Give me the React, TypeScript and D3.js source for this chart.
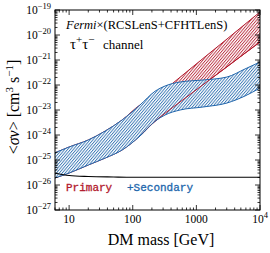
import React from 'react';
import * as d3 from 'd3';

const WIDTH = 270;
const HEIGHT = 253;
const MARGIN = { top: 10, right: 10, bottom: 43, left: 55 };

// DM mass grid [GeV]
const massGeV = [6, 10, 20, 37, 68, 130, 224, 322, 554, 1270, 3030, 5800, 10000];
// log10 <sigma v> [cm^3 s^-1]
const secUpperLog = [-24.71, -24.48, -24.2, -23.84, -23.4, -22.8, -22.25, -22.04, -21.88, -21.8, -21.68, -21.36, -21.08];
const secLowerLog = [-25.72, -25.52, -25.2, -24.92, -24.6, -24.04, -23.45, -23.2, -23.0, -22.88, -22.72, -22.44, -22.12];
const primUpperLog = [-24.71, -24.48, -24.2, -23.84, -23.4, -22.8, -22.5, -22.18, -21.69, -20.94, -20.16, -19.57, -19.08];
const primLowerLog = [-25.72, -25.52, -25.2, -24.92, -24.6, -24.04, -23.45, -23.13, -22.68, -21.99, -21.27, -20.73, -20.28];

// thermal relic cross section
const thermalMass = [6, 10, 20, 50, 100, 1000, 10000];
const thermalLog = [-25.53, -25.62, -25.66, -25.68, -25.69, -25.69, -25.69];

const xTickLabels = ['10', '100', '1000', '10^4'];
const yTickExps = [-19, -20, -21, -22, -23, -24, -25, -26, -27];

const RED = '#b2182b';
const BLUE = '#2166ac';
const SERIF = '"Liberation Serif", "Times New Roman", serif';
const MONO = '"Liberation Mono", monospace';

const App = () => {
    const left = MARGIN.left;
    const right = WIDTH - MARGIN.right;
    const top = MARGIN.top;
    const bottom = HEIGHT - MARGIN.bottom;

    const x = d3.scaleLog().domain([6, 10000]).range([left, right]);
    const y = d3.scaleLog().domain([1e-27, 1e-19]).range([bottom, top]);

    const band = (lo, hi) => d3.area()
        .x((d, i) => x(massGeV[i]))
        .y0((d, i) => y(Math.pow(10, lo[i])))
        .y1((d, i) => y(Math.pow(10, hi[i])))
        .curve(d3.curveMonotoneX)(massGeV);

    const edge = (vals, mass = massGeV) => d3.line()
        .x((d, i) => x(mass[i]))
        .y((d, i) => y(Math.pow(10, vals[i])))
        .curve(d3.curveMonotoneX)(mass);

    const isMajor = v => Math.abs(Math.log10(v) - Math.round(Math.log10(v))) < 1e-6;
    const xTicks = x.ticks(50);
    const yTicks = y.ticks(50);

    // red lower edge stays visible where it leaves the blue band
    const highMass = massGeV.filter(m => m >= 130);
    const primLowerHigh = primLowerLog.slice(massGeV.length - highMass.length);

    return (
        <svg width={WIDTH} height={HEIGHT} style={{ position: 'absolute', left: 0, top: 0 }}>
            <defs>
                <pattern id="hatchRed" patternUnits="userSpaceOnUse" width="2.2" height="10" patternTransform="rotate(40)">
                    <line x1="0.5" y1="0" x2="0.5" y2="10" stroke={RED} strokeWidth="0.8" />
                </pattern>
                <pattern id="hatchBlue" patternUnits="userSpaceOnUse" width="2.2" height="10" patternTransform="rotate(40)">
                    <line x1="0.5" y1="0" x2="0.5" y2="10" stroke={BLUE} strokeWidth="0.8" />
                </pattern>
                <clipPath id="plotClip">
                    <rect x={left} y={top} width={right - left} height={bottom - top} />
                </clipPath>
            </defs>
            <rect x={0} y={0} width={WIDTH} height={HEIGHT} fill="white" />

            <g clipPath="url(#plotClip)">
                <path d={band(primLowerLog, primUpperLog)} fill="url(#hatchRed)" />
                <path d={edge(primUpperLog)} fill="none" stroke={RED} strokeWidth="1" />
                <path d={edge(primLowerLog)} fill="none" stroke={RED} strokeWidth="1" />
                <path d={band(secLowerLog, secUpperLog)} fill="white" />
                <path d={band(secLowerLog, secUpperLog)} fill="url(#hatchBlue)" />
                <path d={edge(primLowerHigh, highMass)} fill="none" stroke={RED} strokeWidth="1" />
                <path d={edge(secUpperLog)} fill="none" stroke={BLUE} strokeWidth="1" />
                <path d={edge(secLowerLog)} fill="none" stroke={BLUE} strokeWidth="1" />
                <path d={edge(thermalLog, thermalMass)} fill="none" stroke="black" strokeWidth="1.2" />
            </g>

            {/* ticks on all four sides */}
            <g stroke="black" strokeWidth="0.8">
                {xTicks.map((t, i) => {
                    const len = isMajor(t) ? 5 : 2.5;
                    return (
                        <g key={'x' + i}>
                            <line x1={x(t)} x2={x(t)} y1={bottom} y2={bottom - len} />
                            <line x1={x(t)} x2={x(t)} y1={top} y2={top + len} />
                        </g>
                    );
                })}
                {yTicks.map((t, i) => {
                    const len = isMajor(t) ? 5 : 2.5;
                    return (
                        <g key={'y' + i}>
                            <line x1={left} x2={left + len} y1={y(t)} y2={y(t)} />
                            <line x1={right} x2={right - len} y1={y(t)} y2={y(t)} />
                        </g>
                    );
                })}
            </g>
            <rect x={left} y={top} width={right - left} height={bottom - top} fill="none" stroke="black" strokeWidth="1" />

            {/* tick labels */}
            <g fontFamily={SERIF} fill="black">
                {yTickExps.map(e => (
                    <text key={e} x={51} y={y(Math.pow(10, e)) + 3.5} textAnchor="end" fontSize="11.5">
                        10<tspan dy="-5" fontSize="8.5">{'\u2212' + Math.abs(e)}</tspan>
                    </text>
                ))}
                {xTickLabels.map(l => {
                    const v = l === '10^4' ? 10000 : +l;
                    return (
                        <text key={l} x={x(v)} y={223} textAnchor="middle" fontSize="11.5">
                            {l === '10^4' ? <>10<tspan dy="-5" fontSize="8.5">4</tspan></> : l}
                        </text>
                    );
                })}
            </g>

            {/* axis titles */}
            <text x={161} y={245} textAnchor="middle" fontFamily={SERIF} fontSize="16">DM mass [GeV]</text>
            <text transform="translate(19,107) rotate(-90)" textAnchor="middle" fontFamily={SERIF} fontSize="16">
                {'<'}<tspan fontStyle="italic">σv</tspan>{'> [cm'}<tspan dy="-6" fontSize="11">3</tspan>
                <tspan dy="6"> s</tspan><tspan dy="-6" fontSize="11">{'\u22121'}</tspan><tspan dy="6">]</tspan>
            </text>

            {/* annotations */}
            <text x={66} y={29} fontFamily={SERIF} fontSize="12.5">
                <tspan fontStyle="italic">Fermi</tspan>×(RCSLenS+CFHTLenS)
            </text>
            <text x={70} y={49} fontFamily={SERIF} fontSize="15">
                τ<tspan dy="-6" fontSize="11">+</tspan><tspan dy="6">τ</tspan><tspan dy="-6" fontSize="11">{'\u2212'}</tspan>
                <tspan dy="6" x={103} fontSize="13">channel</tspan>
            </text>
            <text x={66} y={191} fontFamily={MONO} fontSize="11" fill={RED} stroke={RED} strokeWidth="0.3">Primary</text>
            <text x={127} y={191} fontFamily={MONO} fontSize="11" fill={BLUE} stroke={BLUE} strokeWidth="0.3">+Secondary</text>
        </svg>
    );
};

export default App;
